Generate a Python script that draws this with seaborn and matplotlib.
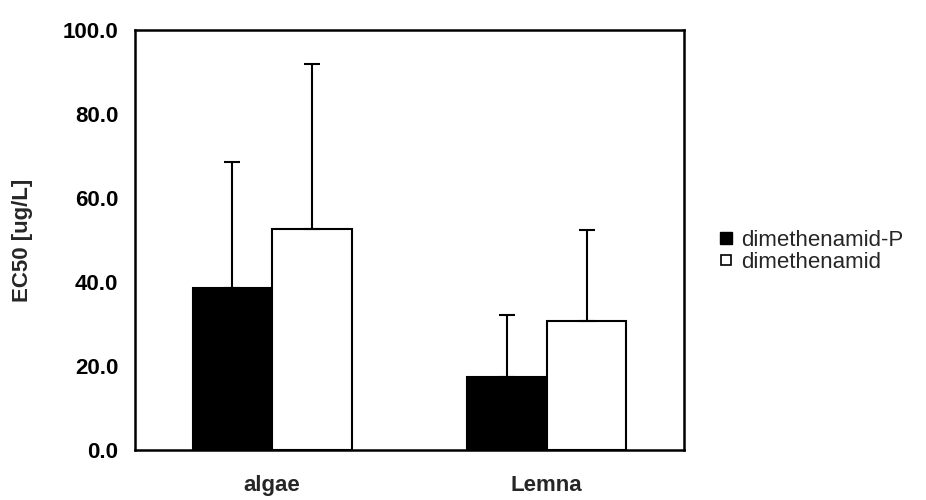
import numpy as np
import pandas as pd
import matplotlib
matplotlib.use("Agg")
import matplotlib.pyplot as plt
import seaborn as sns
from matplotlib.lines import Line2D
from matplotlib.ticker import FormatStrFormatter, FixedLocator

categories = ["algae", "Lemna"]
series = ["dimethenamid-P", "dimethenamid"]
means_p = [38.6, 17.5]
means_d = [52.6, 30.8]
err_p = [30.0, 14.6]
err_d = [39.3, 21.6]
yticks = [0, 20, 40, 60, 80, 100]

df = pd.DataFrame({
    "group": categories * 2,
    "compound": [series[0]] * 2 + [series[1]] * 2,
    "EC50": means_p + means_d,
    "err": err_p + err_d,
})

sns.set_style("white")
plt.rcParams["font.family"] = ["Liberation Sans", "DejaVu Sans"]

fig = plt.figure(figsize=(9.26, 5.0), dpi=100)
ax = fig.add_axes([135 / 926, 0.1, (684 - 135) / 926, 0.84])

sns.barplot(data=df, x="group", y="EC50", hue="compound", order=categories,
            hue_order=series, palette=["black", "white"], width=0.58, gap=0,
            edgecolor="black", linewidth=1.5, errorbar=None, legend=False, ax=ax)

# one-sided error bars from bar geometry
bars = [p for p in ax.patches]
errs_by_key = {(r.group, r.compound): r.err for r in df.itertuples()}
order = [(c, s) for s in series for c in categories]
for patch, key in zip(bars, order):
    xc = patch.get_x() + patch.get_width() / 2
    h = patch.get_height()
    e = errs_by_key[key]
    ax.errorbar([xc], [h], yerr=[[0], [e]], fmt="none", ecolor="black",
                elinewidth=1.5, capsize=5.5, capthick=1.5, zorder=3)

ax.set_xlim(-0.5, 1.5)
ax.set_ylim(0, 100)
ax.yaxis.set_major_locator(FixedLocator(yticks))
ax.yaxis.set_major_formatter(FormatStrFormatter("%.1f"))
ax.tick_params(axis="y", direction="in", length=8, width=1.5, pad=12,
               labelsize=16, colors="black")
ax.tick_params(axis="x", which="major", length=0, pad=18, labelsize=16)
ax.xaxis.set_minor_locator(FixedLocator([0.5]))
ax.tick_params(axis="x", which="minor", direction="in", length=8, width=1.5)
for lab in ax.get_xticklabels() + ax.get_yticklabels():
    lab.set_fontweight("bold")

ax.set_xlabel("")
ax.set_ylabel("EC50 [ug/L]", fontsize=16, fontweight="bold")
ax.yaxis.set_label_coords(-0.185, 0.5)

for sp in ax.spines.values():
    sp.set_visible(True)
    sp.set_color("black")
    sp.set_linewidth(1.8)

handles = [
    Line2D([], [], marker="s", linestyle="none", markersize=8,
           markerfacecolor="black", markeredgecolor="black"),
    Line2D([], [], marker="s", linestyle="none", markersize=6.5,
           markerfacecolor="white", markeredgecolor="black", markeredgewidth=1.2),
]
fig.legend(handles, series, loc="center left", bbox_to_anchor=(0.762, 0.497),
           frameon=False, fontsize=16, handlelength=0.8, handletextpad=0.3,
           labelspacing=0.05, borderpad=0)

fig.savefig("out.png", dpi=100)
